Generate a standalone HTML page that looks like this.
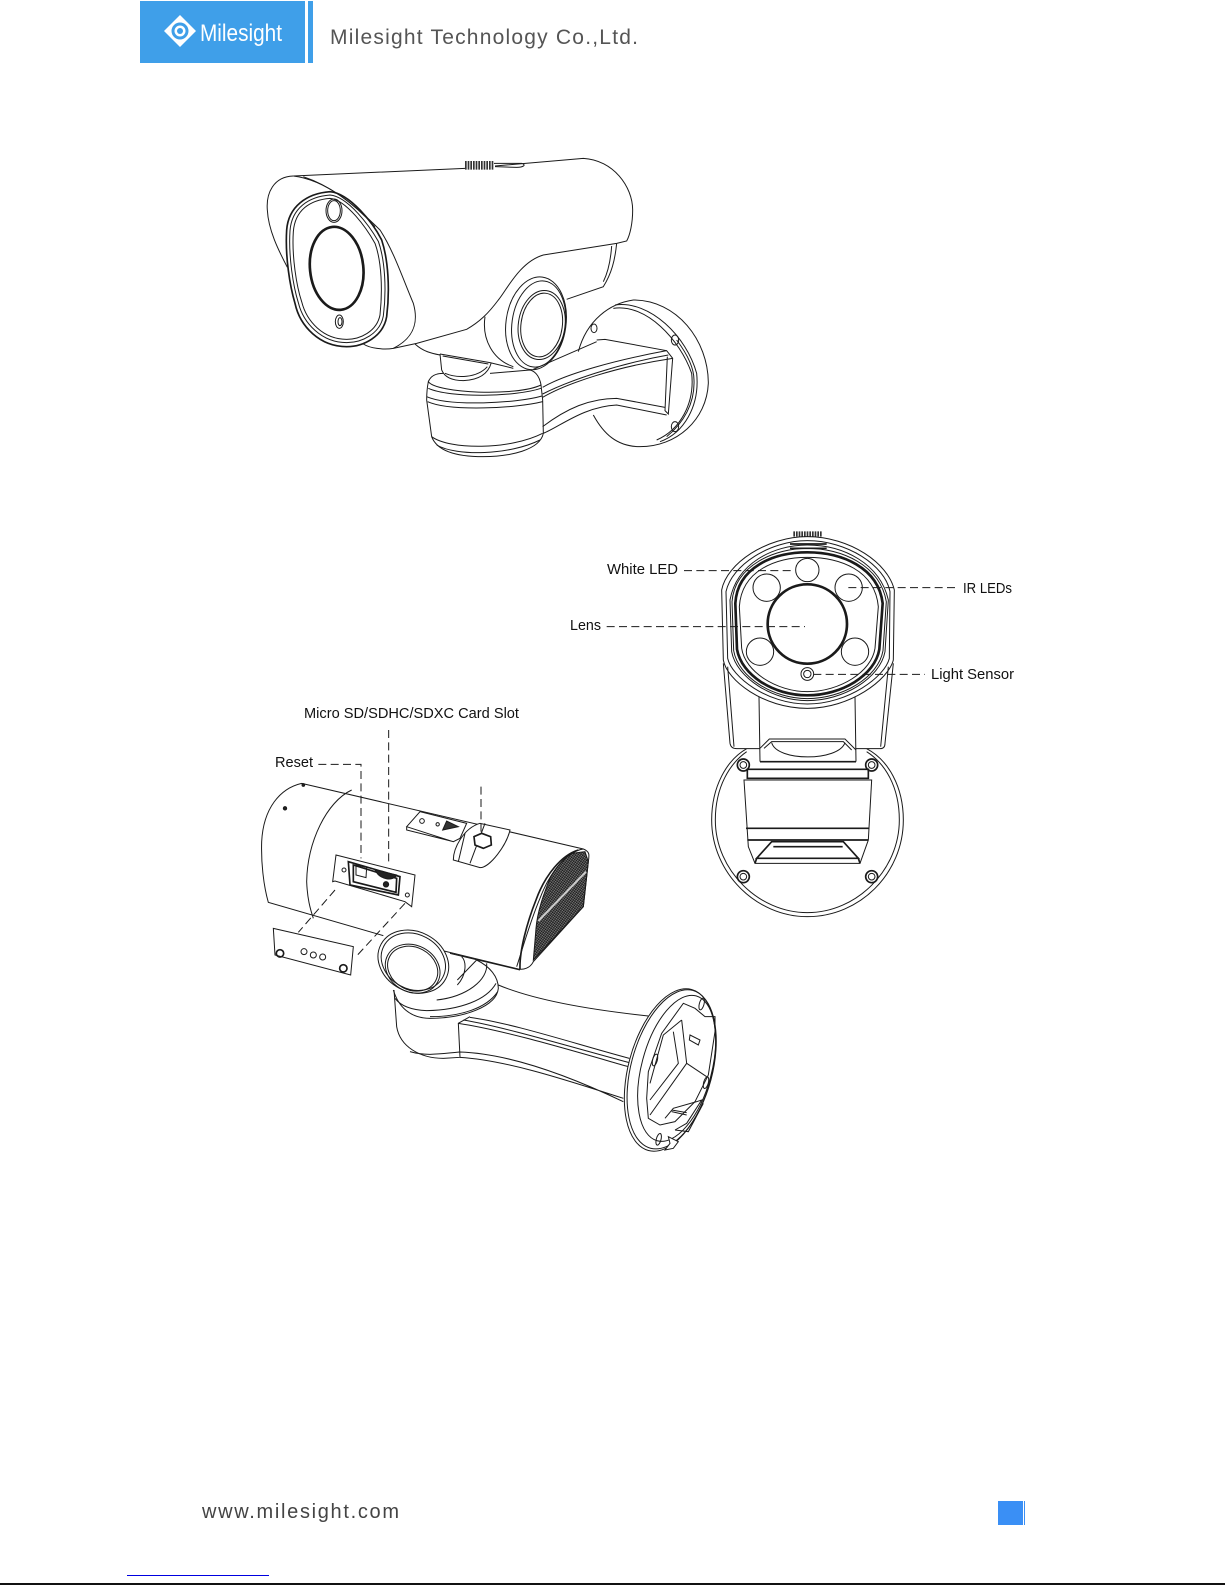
<!DOCTYPE html>
<html><head><meta charset="utf-8"><style>
html,body{margin:0;padding:0;background:#fff}
svg{display:block}
text{font-family:"Liberation Sans",sans-serif}
.l{font-size:15px;fill:#111}
.d{fill:none;stroke:#111;stroke-width:5;stroke-dasharray:24 13}
g.a path,g.a ellipse,g.a circle,g.a rect,g.a polygon,g.a line{fill:none;stroke:#1a1a1a;stroke-width:3}
g.a .w{fill:#fff}
g.a .k{stroke-width:8}
g.a .m{stroke-width:5}
</style></head><body>
<svg width="1225" height="1585" viewBox="0 0 1225 1585" xmlns="http://www.w3.org/2000/svg">
<defs><pattern id="h" width="6" height="6" patternUnits="userSpaceOnUse" patternTransform="rotate(35)"><rect width="6" height="6" fill="#444"/><rect x="0" y="0" width="3" height="3" fill="#111"/><rect x="3" y="3" width="2" height="2" fill="#bbb"/></pattern></defs>

<!-- header -->
<rect x="140" y="1" width="165" height="62" fill="#3f9fe9"/>
<rect x="308" y="1" width="5" height="62" fill="#3f9fe9"/>
<polygon points="180,15 196,31 180,47 164,31" fill="#fff"/>
<circle cx="180" cy="31" r="8.5" fill="#3f9fe9"/><circle cx="180" cy="31" r="5.5" fill="#fff"/><circle cx="180" cy="31" r="3" fill="#3f9fe9"/>
<text x="200" y="41" font-size="24" fill="#fff" textLength="82" lengthAdjust="spacingAndGlyphs">Milesight</text>
<text x="330" y="44" font-size="21" fill="#555" textLength="308" lengthAdjust="spacing">Milesight Technology Co.,Ltd.</text>

<!-- camera 1 -->
<g class="a" transform="translate(250,140) scale(.33333)">
<path d="M130,108 L645,85 M735,78 L1000,55 C1090,60 1148,140 1148,210 C1148,250 1140,285 1130,303 L1100,310 L880,345 C810,365 770,450 745,480 C715,520 690,545 650,568 L500,610 L430,625"/>
<path d="M1100,310 C1095,360 1085,400 1060,440 L950,478"/>
<path d="M1085,318 C1082,360 1075,395 1060,425"/>
<line x1="645" y1="76" x2="732" y2="76" style="stroke-width:26;stroke-dasharray:5 3;stroke:#333"/>
<path d="M732,70 L815,70 C830,75 820,82 800,82 L735,80"/>
<path d="M130,108 C70,110 48,160 52,210 C55,270 85,330 112,382"/>
<path d="M130,108 C230,120 320,200 390,270 C430,330 460,420 490,490 C510,560 480,600 430,625 C400,630 360,625 340,612"/>
<path d="M160,110 C250,140 320,200 375,260"/>
<path d="M240,155 C170,160 115,200 110,270 C105,350 120,440 135,490 C150,560 210,620 290,620 C340,620 400,590 410,530 C420,450 415,360 395,300 C370,250 300,160 240,155 Z" class="m"/>
<path d="M240,165 C175,170 125,205 120,272 C115,350 130,440 145,488 C160,550 215,608 290,608 C335,608 390,582 400,528 C410,450 405,360 385,304 C360,260 295,170 240,165 Z"/>
<path d="M240,175 C180,180 135,210 130,275 C125,350 140,440 155,485 C170,545 220,598 290,598 C330,598 380,575 390,525 C398,450 395,365 375,310 C350,265 290,180 240,175 Z"/>
<ellipse cx="252" cy="212" rx="24" ry="35"/><ellipse cx="252" cy="212" rx="19" ry="30"/>
<ellipse cx="260" cy="385" rx="80" ry="125" transform="rotate(-6 260 385)" class="k"/>
<ellipse cx="268" cy="545" rx="12" ry="20"/><ellipse cx="270" cy="545" rx="6" ry="12"/>
<ellipse cx="858" cy="550" rx="90" ry="140" transform="rotate(8 858 550)" class="w"/>
<ellipse cx="866" cy="552" rx="80" ry="130" transform="rotate(8 866 552)"/>
<ellipse cx="875" cy="555" rx="70" ry="104" transform="rotate(8 875 555)"/>
<ellipse cx="875" cy="555" rx="62" ry="96" transform="rotate(8 875 555)"/>
<path d="M705,530 C695,600 730,660 790,680"/>
<path d="M495,612 C520,635 545,640 570,645 M570,642 L720,668 L790,685 M578,648 L715,672"/>
<path d="M570,642 L575,690 C585,715 610,722 640,722 C690,720 715,700 724,668"/>
<path d="M585,700 C620,715 680,715 712,680"/>
<path d="M535,725 C545,700 570,700 580,700 M720,700 L840,690 C860,695 870,715 873,735"/>
<path d="M530,780 C530,755 533,735 535,725 C560,760 800,770 873,735 L878,780 L880,880 C870,930 780,950 700,950 C610,950 560,930 545,890 Z"/>
<path d="M535,745 C600,775 800,770 873,745 M530,770 C600,800 800,790 876,768 M533,785 C600,815 800,805 878,785"/>
<path d="M545,890 C600,930 780,930 878,880 M560,915 C620,950 780,945 870,900"/>
<path d="M878,742 C950,700 1100,660 1250,632 M878,772 C950,730 1100,680 1268,655"/>
<path d="M878,762 C950,725 1100,672 1255,645"/>
<path d="M880,880 C930,860 1000,800 1100,795 L1250,825 M878,860 C950,805 1020,775 1100,775 L1245,802"/>
<path d="M1040,600 L1065,598 L1250,632 L1268,655 L1255,822 L1245,812 L1252,650"/>
<path d="M850,688 L1040,605"/>
<path d="M985,635 C1010,540 1080,490 1150,480 C1280,480 1375,600 1375,730 C1370,840 1280,920 1170,920 C1100,920 1060,880 1030,825"/>
<path d="M1095,495 C1200,480 1310,590 1340,700 C1350,800 1300,880 1230,905 M1090,505 C1190,490 1290,600 1325,700 C1335,790 1290,870 1220,900 M1280,600 C1310,640 1332,680 1332,720 C1335,790 1300,850 1250,890"/>
<ellipse cx="1032" cy="565" rx="9" ry="13"/><ellipse cx="1275" cy="600" rx="11" ry="15"/><ellipse cx="1275" cy="860" rx="11" ry="15"/>
</g>

<!-- front view -->
<g class="a" transform="translate(560,520) scale(.33333)">
<line x1="700" y1="42" x2="788" y2="42" style="stroke-width:16;stroke-dasharray:5 3;stroke:#333"/>
<path d="M742,50 C620,50 500,130 485,210 L490,420 C500,480 610,565 742,565 C870,565 985,480 1000,420 L1003,210 C985,130 870,50 742,50Z"/>
<path d="M742,62 C630,62 515,135 498,215 L503,415 C515,470 620,552 742,552 C865,552 975,470 988,415 L990,215 C975,135 860,62 742,62Z"/>
<path d="M742,75 C640,75 530,130 510,240 L515,395 C530,475 640,542 742,542 C850,542 960,475 975,395 L985,240 C960,130 850,75 742,75Z"/>
<path d="M742,85 C645,85 525,135 516,245 L521,392 C535,472 640,536 742,536 C848,536 955,472 969,392 L979,245 C960,135 845,85 742,85Z"/>
<path d="M742,97 C640,97 532,142 526,250 L531,388 C545,466 640,526 742,526 C845,526 945,466 958,388 L968,250 C955,142 845,97 742,97Z" class="k"/>
<path d="M742,112 C650,112 545,150 538,260 L545,385 C555,455 650,515 742,515 C840,515 935,455 945,385 L955,260 C945,150 840,112 742,112Z"/>
<path d="M690,72 L800,72 M690,85 L800,85" class="m"/>
<circle cx="742" cy="150" r="35"/><circle cx="620" cy="203" r="41"/><circle cx="866" cy="203" r="41"/><circle cx="600" cy="395" r="41"/><circle cx="885" cy="395" r="41"/>
<circle cx="742" cy="312" r="119" class="k"/>
<circle cx="742" cy="462" r="19"/><circle cx="742" cy="462" r="11"/>
<path d="M490,430 L510,670 C512,682 520,686 530,686 L600,686 M1000,430 L975,670 C975,682 968,686 960,686 L888,686"/>
<path d="M503,440 L522,680 M985,440 L962,680"/>
<path d="M597,530 L600,725 M885,530 L888,725"/>
<path d="M600,685 L628,657 L855,657 L888,690 M612,685 L635,665 L850,665 L875,690"/>
<path d="M635,668 C650,725 835,725 855,668"/>
<path d="M560,686 C500,720 455,800 455,900 C455,1060 590,1190 742,1190 C900,1190 1030,1060 1030,900 C1030,800 985,720 920,686"/>
<path d="M560,695 C510,730 466,800 466,900 C466,1050 595,1178 742,1178 C890,1178 1018,1050 1018,900 C1018,800 975,730 920,695"/>
<path d="M600,725 L888,725 M562,748 L925,748 L925,775 L562,775 Z" class="m"/>
<path d="M552,780 L935,780 L925,960 L900,1030 L585,1030 L565,980 Z"/>
<path d="M558,925 L928,925 M562,960 L925,960" class="m"/>
<path d="M590,1015 L635,965 L850,965 L895,1015 Z M640,980 L848,980 M585,1030 L590,1015 L895,1015 L900,1030" class="m"/>
<circle cx="550" cy="735" r="18" class="m"/><circle cx="550" cy="735" r="10"/>
<circle cx="935" cy="735" r="18" class="m"/><circle cx="935" cy="735" r="10"/>
<circle cx="550" cy="1070" r="18" class="m"/><circle cx="550" cy="1070" r="10"/>
<circle cx="935" cy="1070" r="18" class="m"/><circle cx="935" cy="1070" r="10"/>
<path class="d" d="M372,152 L705,152"/><path class="d" d="M865,203 L1190,203"/>
<path class="d" d="M140,320 L735,320"/><path class="d" d="M760,463 L1095,463"/>
</g>
<text class="l" x="607" y="574" textLength="71" lengthAdjust="spacingAndGlyphs">White LED</text>
<text class="l" x="963" y="593" textLength="49" lengthAdjust="spacingAndGlyphs">IR LEDs</text>
<text class="l" x="570" y="630" textLength="31" lengthAdjust="spacingAndGlyphs">Lens</text>
<text class="l" x="931" y="679" textLength="83" lengthAdjust="spacingAndGlyphs">Light Sensor</text>
<text class="l" x="304" y="718" textLength="215" lengthAdjust="spacingAndGlyphs">Micro SD/SDHC/SDXC Card Slot</text>
<text class="l" x="275" y="767" textLength="38" lengthAdjust="spacingAndGlyphs">Reset</text>

<!-- camera 3 -->
<g class="a" transform="translate(250,695) scale(.33333)">
<path d="M965,475 C945,490 920,510 900,550 C880,600 862,650 858,700 C855,740 852,770 850,795 L1000,635 L1015,500 L1005,470 Z" style="fill:url(#h)"/>
<path d="M155,265 L1000,462 C1020,470 1018,480 1015,500 L1000,635 L850,800 C840,820 820,825 805,822 L500,748 M400,722 L55,622 C40,570 33,500 35,440 C40,340 90,280 155,265"/>
<path d="M305,285 C230,320 172,440 170,560 C172,610 180,640 190,670"/>
<circle cx="105" cy="340" r="5" style="fill:#222"/><circle cx="160" cy="270" r="4" style="fill:#222"/>
<path d="M1000,462 C950,470 900,530 870,610 C840,680 815,770 800,815"/>
<path d="M985,465 C935,480 885,540 858,615 C830,685 808,770 810,822" class="m"/>
<path d="M1008,530 L865,678" style="stroke:#ccc;stroke-width:6"/>
<path d="M258,480 L495,540 L485,635 L465,620 L255,558 L248,560 Z"/>
<path d="M295,500 L450,545 L445,600 L300,570 Z M310,510 L440,550 L438,592 L310,560 Z" class="m"/>
<path d="M318,510 L350,517 L348,548 L318,540 Z"/>
<path d="M375,525 L440,540 C430,560 390,555 375,525 Z" style="fill:#222"/>
<circle cx="408" cy="568" r="8" style="fill:#222"/>
<circle cx="282" cy="525" r="6"/><circle cx="472" cy="600" r="6"/>
<path d="M470,395 L510,350 L650,385 L630,430 L610,440 Z M470,395 L470,405 L610,440"/>
<circle cx="516" cy="378" r="7"/><circle cx="563" cy="388" r="5"/>
<path d="M578,405 L590,378 L625,395 Z" style="fill:#333"/>
<path class="w" d="M690,385 L780,405 C770,450 720,518 690,518 L610,495 C610,460 640,400 690,385 Z"/>
<path d="M645,415 L625,500 M705,385 L660,505"/>
<path class="w m" d="M672,425 L695,415 L722,425 L724,450 L700,460 L675,450 Z"/>
<path class="w" d="M70,700 L310,755 L302,840 L75,780 Z"/>
<circle cx="90" cy="775" r="11" class="m"/><circle cx="280" cy="820" r="11" class="m"/>
<circle cx="162" cy="770" r="9"/><circle cx="190" cy="780" r="9"/><circle cx="218" cy="786" r="9"/>
<path class="d" d="M205,208 L333,208 L333,490"/><path class="d" d="M416,105 L416,510"/><path class="d" d="M693,275 L693,420"/>
<path class="d" d="M255,585 L145,712"/><path class="d" d="M465,625 L318,785"/>
</g>

<!-- bracket bottom -->
<g class="a" transform="translate(370,920) scale(.33333)">
<ellipse class="w" cx="130" cy="125" rx="110" ry="90" transform="rotate(28 130 125)"/>
<ellipse cx="130" cy="125" rx="100" ry="82" transform="rotate(28 130 125)"/>
<ellipse cx="128" cy="146" rx="85" ry="70" transform="rotate(28 128 146)"/>
<ellipse cx="128" cy="146" rx="78" ry="64" transform="rotate(28 128 146)"/>
<path d="M240,100 L450,150 M320,120 L262,180 M275,110 C290,125 290,165 262,195"/>
<path d="M320,120 C360,140 385,170 385,205 C380,260 280,295 180,295 C120,295 85,260 70,210"/>
<path d="M350,130 C355,180 290,230 200,240 M378,190 C350,240 270,270 170,272 C120,270 90,255 75,235"/>
<path d="M383,215 C350,265 270,290 180,290"/>
<path d="M72,210 L80,320 C90,380 150,415 220,415 L270,412 L265,310 L300,290"/>
<path d="M120,395 C170,410 220,400 270,396 C400,400 560,450 760,545 M270,412 C400,420 560,470 760,535"/>
<path d="M385,195 C480,235 620,265 835,288"/>
<path d="M265,310 C400,330 600,390 775,440 M300,292 C430,310 610,370 778,415 M280,300 C400,320 600,380 778,428"/>
<ellipse class="w" cx="900" cy="450" rx="125" ry="250" transform="rotate(15 900 450)"/>
<ellipse cx="905" cy="448" rx="122" ry="245" transform="rotate(15 905 448)"/>
<ellipse cx="920" cy="445" rx="105" ry="225" transform="rotate(15 920 445)"/>
<path d="M940,250 L975,265 L1005,290 L1035,290 L1035,335 L1015,465 L975,545 L915,605 L870,615 L835,595 L830,535 L835,455 L875,340 Z"/>
<path d="M935,300 L880,345 L840,490 M935,300 L950,430 L840,585 M910,335 L925,430 L840,540 M950,430 L1010,470"/>
<path d="M960,345 L990,360 L985,375 L958,360 Z"/>
<path d="M885,595 L910,565 L980,545 L995,540 L950,610 L915,630 M905,570 L950,578 M905,575 L950,585"/>
<path d="M915,630 L955,635 L1000,550"/>
<ellipse cx="995" cy="252" rx="7" ry="18" transform="rotate(15 995 252)"/>
<ellipse cx="855" cy="420" rx="7" ry="18" transform="rotate(15 855 420)"/>
<ellipse cx="1008" cy="488" rx="7" ry="18" transform="rotate(15 1008 488)"/>
<ellipse cx="866" cy="658" rx="7" ry="18" transform="rotate(15 866 658)"/>
<path class="w" d="M895,650 L925,665 L910,685 L885,690 L900,670 Z" style="stroke-width:3"/>
</g>

<!-- footer -->
<text x="202" y="1518" font-size="20" fill="#444" textLength="197" lengthAdjust="spacing">www.milesight.com</text>
<rect x="998" y="1501" width="25" height="24" fill="#3a8ff5"/>
<rect x="1024" y="1501" width="1" height="24" fill="#3a8ff5"/>
<rect x="127" y="1575" width="142" height="1" fill="#0000e0"/>
<rect x="0" y="1583" width="1225" height="2" fill="#111"/>
</svg>
</body></html>
